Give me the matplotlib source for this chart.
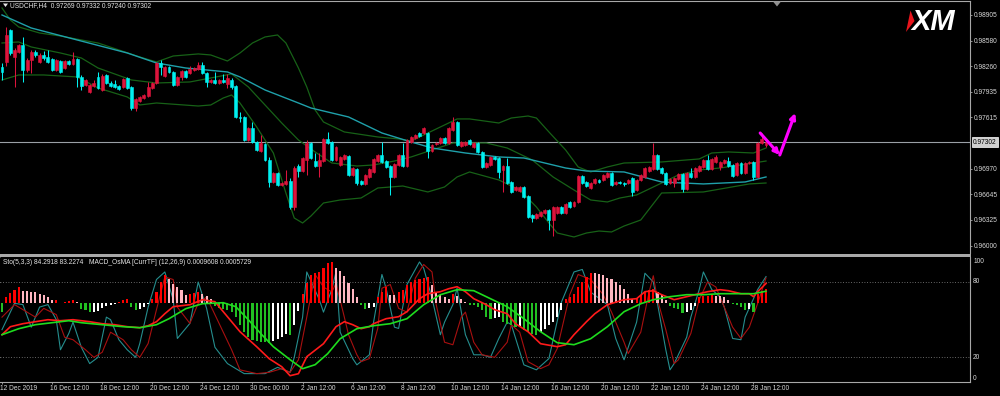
import matplotlib
matplotlib.use("Agg")
import matplotlib.pyplot as plt
from matplotlib.patches import Polygon, Rectangle
import numpy as np

plt.rcParams['font.family'] = ['Liberation Sans', 'DejaVu Sans']

# ---------------- DATA ----------------
symbol = "USDCHF,H4"
header_ohlc = [0.97269, 0.97332, 0.97240, 0.97302]
current_price = 0.97302

opens = [
 0.98250,0.98313,0.98716,0.98376,0.98439,0.98527,0.98212,0.98338,0.98439,0.98313,
 0.98401,0.98376,0.98351,0.98212,0.98325,0.98237,0.98325,0.98288,0.98351,0.98124,
 0.98023,0.97935,0.98010,0.98124,0.97960,0.98149,0.98048,0.98036,0.98010,0.97998,
 0.98111,0.97998,0.97733,0.97821,0.97859,0.97884,0.97985,0.98048,0.98300,0.98136,
 0.98250,0.98187,0.98023,0.98124,0.98199,0.98174,0.98212,0.98225,0.98275,0.98174,
 0.98061,0.98086,0.98048,0.98086,0.98036,0.98086,0.98010,0.97620,0.97620,0.97330,
 0.97481,0.97305,0.97191,0.97280,0.97078,0.96801,0.96914,0.96763,0.96776,0.96813,
 0.96486,0.97002,0.96939,0.97078,0.97292,0.97065,0.97002,0.97065,0.97343,0.97305,
 0.97078,0.97015,0.97091,0.97128,0.96889,0.96965,0.96813,0.96776,0.96864,0.96927,
 0.97065,0.97141,0.97065,0.97002,0.96864,0.97015,0.97141,0.97002,0.97305,0.97355,
 0.97418,0.97418,0.97418,0.97191,0.97280,0.97292,0.97355,0.97292,0.97456,0.97557,
 0.97254,0.97267,0.97330,0.97242,0.97292,0.97179,0.96990,0.97015,0.97116,0.97103,
 0.96952,0.97002,0.96801,0.96700,0.96687,0.96738,0.96624,0.96385,0.96347,0.96372,
 0.96410,0.96448,0.96322,0.96410,0.96486,0.96410,0.96549,0.96498,0.96549,0.96876,
 0.96801,0.96725,0.96788,0.96826,0.96826,0.96864,0.96914,0.96776,0.96801,0.96788,
 0.96788,0.96851,0.96700,0.96826,0.96864,0.96939,0.96965,0.97141,0.96977,0.96914,
 0.96788,0.96788,0.96839,0.96902,0.96713,0.96914,0.96864,0.96939,0.96990,0.97078,
 0.96965,0.97053,0.96990,0.97040,0.97065,0.97015,0.96889,0.97040,0.96914,0.97040,
 0.97053,0.96864,0.97292,0.97269]
highs = [
 0.98300,0.98754,0.98729,0.98489,0.98540,0.98628,0.98363,0.98464,0.98464,0.98426,
 0.98451,0.98464,0.98363,0.98351,0.98338,0.98338,0.98338,0.98439,0.98363,0.98149,
 0.98099,0.98036,0.98086,0.98187,0.98162,0.98162,0.98073,0.98086,0.98023,0.98111,
 0.98124,0.98010,0.97859,0.97884,0.97910,0.98061,0.98061,0.98313,0.98338,0.98262,
 0.98262,0.98199,0.98136,0.98212,0.98212,0.98262,0.98250,0.98313,0.98313,0.98187,
 0.98099,0.98187,0.98099,0.98162,0.98162,0.98111,0.98023,0.97683,0.97632,0.97494,
 0.97557,0.97317,0.97393,0.97292,0.97116,0.96927,0.96927,0.96801,0.96952,0.96851,
 0.97002,0.97028,0.97116,0.97330,0.97305,0.97166,0.97166,0.97355,0.97431,0.97317,
 0.97254,0.97128,0.97154,0.97141,0.96990,0.96977,0.96826,0.96902,0.96977,0.97103,
 0.97154,0.97305,0.97078,0.97015,0.97040,0.97154,0.97292,0.97343,0.97380,0.97406,
 0.97431,0.97494,0.97431,0.97280,0.97305,0.97368,0.97368,0.97494,0.97620,0.97569,
 0.97317,0.97317,0.97343,0.97305,0.97305,0.97191,0.97053,0.97128,0.97128,0.97116,
 0.97015,0.97103,0.96813,0.96750,0.96750,0.96750,0.96637,0.96398,0.96410,0.96435,
 0.96461,0.96461,0.96498,0.96498,0.96498,0.96536,0.96561,0.96561,0.96889,0.96889,
 0.96813,0.96801,0.96851,0.96839,0.96902,0.96927,0.96927,0.96813,0.96813,0.96801,
 0.96839,0.96864,0.96839,0.96902,0.96990,0.97002,0.97292,0.97154,0.96990,0.96927,
 0.96851,0.96864,0.96914,0.96914,0.96927,0.96977,0.96990,0.97015,0.97091,0.97141,
 0.97103,0.97141,0.97065,0.97091,0.97116,0.97028,0.97053,0.97053,0.97053,0.97065,
 0.97065,0.97305,0.97418,0.97332]
lows = [
 0.98086,0.98262,0.98401,0.97998,0.98426,0.98061,0.98187,0.98174,0.98376,0.98300,
 0.98338,0.98300,0.98199,0.98199,0.98174,0.98225,0.98275,0.98275,0.97998,0.97960,
 0.98010,0.97925,0.97998,0.97973,0.97947,0.98036,0.97998,0.97985,0.97960,0.97985,
 0.97973,0.97708,0.97695,0.97809,0.97847,0.97872,0.97973,0.98036,0.98149,0.98124,
 0.98174,0.98010,0.98010,0.98086,0.98111,0.98162,0.98199,0.98212,0.98162,0.97998,
 0.98048,0.98036,0.98036,0.98048,0.97985,0.97973,0.97607,0.97557,0.97317,0.97317,
 0.97292,0.97191,0.97179,0.97065,0.96738,0.96788,0.96750,0.96750,0.96763,0.96461,
 0.96448,0.96864,0.96927,0.96889,0.97091,0.96990,0.96864,0.97053,0.97280,0.97065,
 0.97065,0.97002,0.97078,0.96876,0.96876,0.96763,0.96763,0.96763,0.96851,0.96914,
 0.97053,0.97040,0.96977,0.96637,0.96851,0.97002,0.96990,0.96990,0.97292,0.97343,
 0.97368,0.97406,0.97103,0.97179,0.97267,0.97280,0.97280,0.97280,0.97443,0.97254,
 0.97242,0.97254,0.97267,0.97229,0.97166,0.96977,0.96977,0.97002,0.97078,0.96851,
 0.96675,0.96776,0.96662,0.96687,0.96675,0.96599,0.96347,0.96297,0.96335,0.96360,
 0.96398,0.96196,0.96120,0.96398,0.96398,0.96398,0.96473,0.96486,0.96536,0.96776,
 0.96738,0.96713,0.96776,0.96788,0.96813,0.96851,0.96750,0.96763,0.96776,0.96750,
 0.96776,0.96624,0.96687,0.96813,0.96851,0.96927,0.96952,0.96952,0.96902,0.96763,
 0.96776,0.96738,0.96826,0.96675,0.96700,0.96851,0.96851,0.96927,0.96977,0.96952,
 0.96952,0.97040,0.96952,0.97028,0.96990,0.96864,0.96876,0.96902,0.96902,0.97028,
 0.96826,0.96851,0.97280,0.97240]
closes = [
 0.98187,0.98653,0.98426,0.98464,0.98527,0.98212,0.98338,0.98439,0.98401,0.98401,
 0.98363,0.98313,0.98212,0.98338,0.98187,0.98325,0.98288,0.98351,0.98124,0.98010,
 0.98086,0.98023,0.98048,0.97985,0.98136,0.98048,0.98010,0.97998,0.97973,0.98099,
 0.97985,0.97733,0.97847,0.97872,0.97897,0.97998,0.98048,0.98300,0.98250,0.98250,
 0.98187,0.98023,0.98124,0.98199,0.98124,0.98225,0.98237,0.98275,0.98174,0.98061,
 0.98086,0.98048,0.98086,0.98061,0.98111,0.97998,0.97620,0.97607,0.97330,0.97481,
 0.97305,0.97204,0.97292,0.97078,0.96801,0.96914,0.96763,0.96788,0.96813,0.96486,
 0.96977,0.96939,0.97103,0.97292,0.97103,0.97002,0.97078,0.97343,0.97292,0.97078,
 0.97242,0.97116,0.97141,0.96889,0.96977,0.96788,0.96776,0.96889,0.96965,0.97091,
 0.97141,0.97053,0.96990,0.96864,0.97028,0.97141,0.97002,0.97330,0.97368,0.97393,
 0.97380,0.97481,0.97191,0.97267,0.97292,0.97355,0.97292,0.97481,0.97557,0.97267,
 0.97305,0.97305,0.97280,0.97292,0.97179,0.96990,0.97040,0.97116,0.97091,0.96927,
 0.97002,0.96788,0.96675,0.96738,0.96738,0.96612,0.96360,0.96347,0.96398,0.96423,
 0.96448,0.96322,0.96486,0.96486,0.96410,0.96524,0.96486,0.96549,0.96876,0.96788,
 0.96750,0.96788,0.96839,0.96801,0.96889,0.96914,0.96763,0.96801,0.96788,0.96776,
 0.96826,0.96675,0.96826,0.96889,0.96977,0.96990,0.97141,0.96965,0.96914,0.96776,
 0.96839,0.96851,0.96902,0.96713,0.96914,0.96864,0.96977,0.97002,0.97078,0.96965,
 0.97091,0.97116,0.97053,0.97078,0.97002,0.96876,0.97040,0.96914,0.97040,0.97053,
 0.96864,0.97292,0.97343,0.97302]

# Bollinger bands (20,2) read at bar indices
bb_upper_bars = [0,2,4,9,14,19,23,28,33,37,41,47,50,54,57,60,63,66,68,71,73,75,77,82,90,95,98,101,106,109,
                 112,119,122,126,128,131,135,138,141,145,149,158,167,170,174,180,183]
bb_upper = [0.98993,0.98842,0.98754,0.98678,0.98640,0.98590,0.98552,0.98464,0.98376,0.98313,
            0.98388,0.98414,0.98401,0.98325,0.98426,0.98552,0.98628,0.98653,0.98552,0.98237,
            0.97998,0.97708,0.97557,0.97431,0.97368,0.97343,0.97317,0.97393,0.97519,0.97595,
            0.97595,0.97544,0.97607,0.97632,0.97607,0.97431,0.97204,0.96990,0.96927,0.96990,
            0.97040,0.97053,0.97091,0.97166,0.97179,0.97166,0.97229]
bb_mid_bars = [0,4,7,14,19,23,31,37,45,50,55,59,63,67,71,75,79,85,89,94,98,103,108,112,116,121,127,132,137,141,
               145,148,152,158,162,167,172,177,183]
bb_mid = [0.98552,0.98565,0.98502,0.98426,0.98363,0.98237,0.98086,0.98048,0.98061,0.98111,
          0.98162,0.97998,0.97771,0.97544,0.97330,0.97179,0.97040,0.97002,0.97015,0.97065,
          0.97116,0.97204,0.97292,0.97292,0.97292,0.97229,0.97078,0.96864,0.96700,0.96574,
          0.96549,0.96599,0.96637,0.96788,0.96889,0.96952,0.96977,0.97015,0.97065]
bb_low_bars = [0,4,10,18,23,30,33,37,47,50,53,55,57,61,65,68,70,72,74,77,81,86,90,96,102,106,109,112,119,124,
               128,131,133,137,140,143,146,149,153,158,168,179,183]
bb_low = [0.98086,0.98149,0.98149,0.98124,0.97985,0.97872,0.97771,0.97796,0.97758,0.97771,
          0.97859,0.97897,0.97796,0.97494,0.97166,0.96662,0.96347,0.96284,0.96372,0.96536,
          0.96574,0.96599,0.96725,0.96750,0.96675,0.96738,0.96864,0.96927,0.96826,0.96700,
          0.96486,0.96284,0.96158,0.96108,0.96158,0.96183,0.96171,0.96246,0.96322,0.96662,
          0.96675,0.96776,0.96788]
# slow moving average (teal)
ma_bars = [0,7,18,30,37,44,54,57,63,71,74,83,91,98,103,111,119,125,135,140,149,158,168,178,183]
ma_vals = [0.98905,0.98741,0.98590,0.98426,0.98300,0.98237,0.98187,0.98124,0.97960,0.97796,
           0.97733,0.97620,0.97418,0.97305,0.97229,0.97166,0.97116,0.97103,0.96977,0.96939,
           0.96927,0.96801,0.96776,0.96801,0.96864]

# Stochastic (5,3,3)
sto_main_bars = [0,3,5,7,9,11,13,14,16,17,19,21,23,25,26,28,30,32,33,35,37,39,41,42,45,47,49,51,54,58,
                 63,66,69,70,72,73,76,77,79,80,81,84,85,88,89,91,92,94,95,97,100,101,103,105,106,108,109,111,113,115,
                 117,119,121,122,125,128,131,134,137,139,141,145,147,149,152,154,156,157,159,160,
                 161,164,165,167,168,170,172,173,175,177,178,181,183]
sto_main = [42,63,62,44,60,62,50,26,39,48,28,15,20,52,50,34,26,20,31,60,
            82,88,66,35,47,80,59,28,15,7,7,12,8,20,52,88,66,56,74,88,
            40,19,14,22,48,86,75,44,43,78,96,91,67,38,48,62,75,38,22,22,
            20,35,48,46,14,10,19,64,88,90,72,62,35,18,48,87,80,63,26,10,
            15,36,52,74,88,74,68,60,35,34,52,74,84.29]
sto_sig_bars = [0,3,5,8,10,13,15,17,20,22,24,26,29,31,33,35,37,39,41,42,45,47,49,52,55,57,61,64,67,69,
                71,73,75,77,79,80,82,83,85,86,88,90,91,93,95,97,99,101,103,104,106,108,110,111,113,115,118,121,122,124,
                126,129,131,133,136,138,141,144,146,149,150,153,155,156,157,159,161,162,165,167,
                169,171,173,175,177,179,181,183]
sto_sig = [52,62,58,52,59,54,36,34,26,20,24,40,34,26,20,31,58,84,82,60,
           47,63,68,47,26,10,7,8,11,8,18,52,86,76,72,79,52,38,22,16.5,
           19,43,75,78,59,56,83,94,88,62,32,30,52,56,32,22,20,32,46,40,
           16.5,11,14,27,70,86,82,70,56,32,23,40,72,85,66,42,15,18,39,66,
           80,76,60,44,35,44,63,83.23]

# MACD_OsMA (12,26,9), values in units of 1e-5
osma_e5 = [
 -45,30,50,65,80,60,57.5,55,52.5,45,
 40,30,12.5,15,-2.5,5,10,15,5,-30,
 -35,-47.5,-45,-42.5,-25,-15,-10,-5,5,15,
 20,-20,-35,-30,-20,-5,20,55,105,140,
 120,95,80,65,40,45,50,55,45,35,
 20,-15,-25,-30,-35,-45,-70,-110,-145,-170,
 -185,-190,-195,-197.5,-200,-190,-180,-170,-155,-160,
 -110,-40,45,100,140,150,155,175,200,205,
 175,160,135,100,70,30,-10,-30,-27.5,-20,
 30,55,80,40,37.5,55,65,90,105,115,
 120,125,130,90,55,40,30,20,45,35,
 20,5,-10,-12.5,-20,-35,-70,-80,-75,-70,
 -95,-105,-110,-120,-115,-135,-145,-155,-160,-145,
 -130,-110,-95,-70,-35,20,30,45,80,105,
 130,150,147.5,145,140,125,120,105,90,70,
 45,20,25,40,55,65,70,55,40,15,
 -15,-25,-30,-50,-45,-35,-15,30,32.5,35,
 37.5,35,32.5,30,15,-5,-10,-20,-35,-30,
 -45,45,60,70]
macd_bars = [0,2,5,8,11,14,17,21,24,27,30,33,35,37,39,41,45,48,51,54,57,61,64,67,69,71,73,77,80,82,
             84,86,88,89,92,95,97,100,102,105,107,109,111,113,116,118,121,123,126,129,
             133,135,137,140,142,145,149,152,154,156,158,161,164,167,169,172,174,177,179,180,181,183]
macd_e5 = [-160,-120,-105,-95,-85,-90,-85,-95,-105,-110,-120,-125,-115,-95,-55,-20,-10,15,5,-70,
           -145,-220,-280,-320,-365,-355,-270,-205,-120,-95,-110,-130,-120,-105,-80,-70,-45,20,45,55,
           70,80,55,20,-10,-35,-55,-105,-145,-205,-220,-210,-160,-95,-55,-10,15,20,55,60,
           40,15,30,45,55,65,60,45,45,30,55,96.08]
signal_bars = [0,4,8,12,16,19,24,29,33,37,40,44,48,53,56,59,62,65,69,72,75,78,81,85,89,93,97,101,105,109,
               113,117,121,125,129,133,137,141,145,149,153,156,160,164,168,172,176,180,183]
signal_e5 = [-160,-130,-110,-100,-90,-100,-110,-120,-125,-110,-80,-30,-5,0,-20,-85,-155,-220,-285,-330,
             -310,-255,-180,-130,-115,-105,-80,-10,40,65,60,20,-20,-80,-145,-200,-210,-180,-120,-45,
             -5,15,30,40,40,45,45,45,57.29]

price_ticks = [0.98905, 0.98580, 0.98260, 0.97935, 0.97615, 0.96970, 0.96645, 0.96325, 0.96000]
time_label_bars = [0,12,24,36,48,60,72,84,96,108,120,132,144,156,168,180]
time_labels = ["12 Dec 2019","16 Dec 12:00","18 Dec 12:00","20 Dec 12:00","24 Dec 12:00","30 Dec 00:00",
               "2 Jan 12:00","6 Jan 12:00","8 Jan 12:00","10 Jan 12:00","14 Jan 12:00","16 Jan 12:00",
               "20 Jan 12:00","22 Jan 12:00","24 Jan 12:00","28 Jan 12:00"]
sto_levels = [20, 80]
arrow_bars = [181.6, 186.3, 190.0]
arrow_prices = [0.97418, 0.97141, 0.97670]

# ---------------- STYLE ----------------
BULL = '#dc143c'
BEAR = '#00f0f0'
BBC = '#176117'
MAC = '#1fa0aa'
GRID = '#a8a8a8'
TXT = '#d8d8d8'
FS = 4.8

W, H = 1000, 396
fig = plt.figure(figsize=(W / 100, H / 100), dpi=100, facecolor='black')

def fy(y):
    return 1 - y / H

XLIM = (-0.48, 231.86)

# ---------------- MAIN PANEL ----------------
ax = fig.add_axes([0, fy(253), 0.97, 252 / H], facecolor='black')
ax.set_xlim(*XLIM)
ax.set_ylim(0.95906, 0.99081)

idx = np.arange(len(closes))
o = np.array(opens); c = np.array(closes); hi = np.array(highs); lo = np.array(lows)
cols = np.where(c >= o, BULL, BEAR)

ax.axhline(current_price, color='#9aa0a6', lw=0.8, zorder=2)
ax.plot(bb_upper_bars, bb_upper, color=BBC, lw=0.9, zorder=2.5)
ax.plot(bb_mid_bars, bb_mid, color=BBC, lw=0.9, zorder=2.5)
ax.plot(bb_low_bars, bb_low, color=BBC, lw=0.9, zorder=2.5)
ax.plot(ma_bars, ma_vals, color=MAC, lw=1.0, zorder=2.6)

ax.vlines(idx, lo, hi, colors=cols, lw=0.75, zorder=3)
ax.bar(idx, np.abs(c - o), bottom=np.minimum(o, c), width=0.7, color=cols,
       edgecolor=cols, linewidth=0.4, zorder=4)

# magenta forecast arrows
ax.annotate('', xy=(arrow_bars[1], arrow_prices[1]), xytext=(arrow_bars[0], arrow_prices[0]),
            arrowprops=dict(arrowstyle='-|>', color='#ff00ff', lw=2.2, mutation_scale=8,
                            shrinkA=0, shrinkB=0), zorder=6)
ax.annotate('', xy=(arrow_bars[2], arrow_prices[2]), xytext=(arrow_bars[1], arrow_prices[1]),
            arrowprops=dict(arrowstyle='-|>', color='#ff00ff', lw=2.2, mutation_scale=8,
                            shrinkA=0, shrinkB=0), zorder=6)

ax.set_xticks([])
ax.yaxis.tick_right()
ax.set_yticks(price_ticks)
ax.set_yticklabels([f"{p:.5f}" for p in price_ticks])
ax.tick_params(axis='y', colors=GRID, labelcolor=TXT, labelsize=FS, length=1.5, width=0.6, pad=1.2)
for s in ['left', 'bottom']:
    ax.spines[s].set_visible(False)
for s in ['top', 'right']:
    ax.spines[s].set_color(GRID)
    ax.spines[s].set_linewidth(0.8)

ax.annotate(f"{current_price:.5f}", xy=(1, current_price), xycoords=('axes fraction', 'data'),
            xytext=(2.0, 0), textcoords='offset points', ha='left', va='center', fontsize=FS,
            color='black', bbox=dict(boxstyle='square,pad=0.18', fc='#d0d0d0', ec='#ffffff', lw=0.5),
            annotation_clip=False)

# ---------------- LOWER PANEL ----------------
ax2 = fig.add_axes([0, fy(382.4), 0.97, 125.5 / H], facecolor='black')
ax2.set_xlim(*XLIM)
ax2.set_ylim(0, 100)
for lv in sto_levels:
    ax2.axhline(lv, color='#8a8a8a', lw=0.6, ls=(0, (1, 2.2)), zorder=1)
ax2.plot(sto_main_bars, sto_main, color='#258e8e', lw=0.8, zorder=2)
ax2.plot(sto_sig_bars, sto_sig, color='#a81010', lw=0.8, zorder=2)

ax2.yaxis.tick_right()
ax2.set_yticks([0, 20, 80, 100])
ax2.set_yticklabels([])
ax2.tick_params(axis='y', colors=GRID, length=1.5, width=0.6)
for val, pos in [(100, 96.6), (80, 80), (20, 20), (0, 3.3)]:
    ax2.annotate(str(val), xy=(1, pos), xycoords=('axes fraction', 'data'), xytext=(2.2, 0),
                 textcoords='offset points', ha='left', va='center', fontsize=FS, color=TXT,
                 annotation_clip=False)
ax2.set_xticks(time_label_bars)
ax2.set_xticklabels([])
ax2.tick_params(axis='x', colors=GRID, length=1.5, width=0.6, direction='out')
for b, lab in zip(time_label_bars, time_labels):
    ax2.annotate(lab, xy=(b, 0), xycoords=('data', 'axes fraction'), xytext=(-1.5, -4.4),
                 textcoords='offset points', ha='left', va='center', fontsize=FS, color=TXT,
                 annotation_clip=False)
ax2.spines['left'].set_visible(False)
ax2.spines['top'].set_visible(False)
for s in ['right', 'bottom']:
    ax2.spines[s].set_color(GRID)
    ax2.spines[s].set_linewidth(0.8)

ax3 = ax2.twinx()
ax3.set_xlim(*XLIM)
ax3.set_ylim(-398.5, 229)
osma = np.array(osma_e5)
hcols = []
for i, v in enumerate(osma):
    prev = osma[i - 1] if i > 0 else 0.0
    if v >= 0:
        hcols.append('#ff0000' if v >= prev else '#ffb6c1')
    else:
        hcols.append('#22c022' if v < prev else '#ffffff')
ax3.bar(idx, osma, width=0.5, color=hcols, linewidth=0, zorder=2)
ax3.plot(macd_bars, macd_e5, color='#ff1a1a', lw=1.2, zorder=3)
ax3.plot(signal_bars, signal_e5, color='#1edc1e', lw=1.2, zorder=3)
ax3.set_yticks([])
for s in ax3.spines.values():
    s.set_visible(False)

# separator between panels
fig.patches.append(Rectangle((0, fy(256.7)), 971 / W, 2.5 / H, transform=fig.transFigure,
                             color=GRID, lw=0))

# ---------------- TEXTS / DECORATIONS ----------------
fig.patches.append(Polygon([(3 / W, fy(3.5)), (8 / W, fy(3.5)), (5.5 / W, fy(7))],
                           closed=True, transform=fig.transFigure, color='#e6e6e6', lw=0))
hdr = f"{symbol}  " + " ".join(f"{v:.5f}" for v in header_ohlc)
fig.text(10 / W, fy(5.5), hdr, fontsize=FS, color='#e6e6e6', ha='left', va='center')
fig.text(3 / W, fy(262), "Sto(5,3,3) 84.2918 83.2274   MACD_OsMA [CurrTF] (12,26,9) 0.0009608 0.0005729",
         fontsize=FS, color='#e6e6e6', ha='left', va='center')
# chart shift marker
fig.patches.append(Polygon([(773 / W, fy(1.5)), (781 / W, fy(1.5)), (777 / W, fy(6.5))],
                           closed=True, transform=fig.transFigure, color='#909090', lw=0))
# XM logo
fig.patches.append(Polygon([(910.5 / W, fy(10.5)), (914.5 / W, fy(21)), (906 / W, fy(32))],
                           closed=True, transform=fig.transFigure, color='#e8141c', lw=0))
fig.text(911 / W, fy(21.5), "XM", fontsize=21, color='white', fontweight='bold', fontstyle='italic',
         ha='left', va='center', family=['Liberation Sans', 'DejaVu Sans'])

fig.savefig("out.png", dpi=100, facecolor='black')
